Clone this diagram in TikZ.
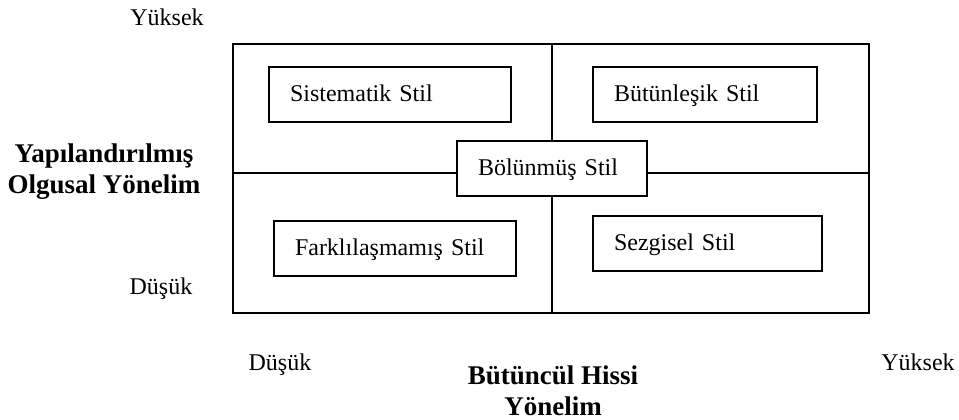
\documentclass[tikz,border=0pt]{standalone}
\usepackage{fontspec}
\setmainfont{Liberation Serif}
\begin{document}
\begin{tikzpicture}[x=0.5pt, y=-0.5pt,
        stilbox/.style={draw, fill=white, line width=1pt, align=left, inner xsep=10.5pt, inner ysep=0pt, minimum height=27.5pt, text height=9pt, text depth=2pt, font=\fontsize{12}{14}\selectfont},
        eksen/.style={font=\fontsize{12}{14}\selectfont},
        baslik/.style={align=center, font=\fontsize{13.5}{15.5}\selectfont\bfseries}]
        \useasboundingbox (0,0) rectangle (959,419);
        \draw[line width=1pt] (233,44) rectangle (869,313);
        \coordinate (ust) at (552,44);
        \coordinate (alt) at (552,313);
        \coordinate (sol) at (233,173);
        \coordinate (sag) at (869,173);

        \node[stilbox, text width=100pt] (sistematik) at (390,94.5) {Sistematik Stil};
        \node[stilbox, text width=91pt] (butunlesik) at (705,94.5) {Bütünleşik Stil};
        \node[stilbox, text width=74pt] (bolunmus) at (552,168) {Bölünmüş Stil};
        \node[stilbox, text width=100pt] (farklilasmamis) at (395,248.5) {Farklılaşmamış Stil};
        \node[stilbox, text width=93.5pt] (sezgisel) at (707.5,243.5) {Sezgisel Stil};

        \draw[line width=1pt] (ust) -- (bolunmus.north) (bolunmus.south) -- (alt)
            (sol) -- (sol -| bolunmus.west) (sag -| bolunmus.east) -- (sag);

        \node[eksen, anchor=base] (yuksekdikey) at (167,25) {Yüksek};
        \node[baslik] (dikeyeksen) at (104,172) {Yapılandırılmış\\Olgusal Yönelim};
        \node[eksen, anchor=base] (dusukdikey) at (161,294) {Düşük};
        \node[eksen, anchor=base] (dusukyatay) at (280,370) {Düşük};
        \node[baslik] (yatayeksen) at (553,391) {Bütüncül Hissi\\Yönelim};
        \node[eksen, anchor=base] (yuksekyatay) at (918,370) {Yüksek};
    \end{tikzpicture}
\end{document}
